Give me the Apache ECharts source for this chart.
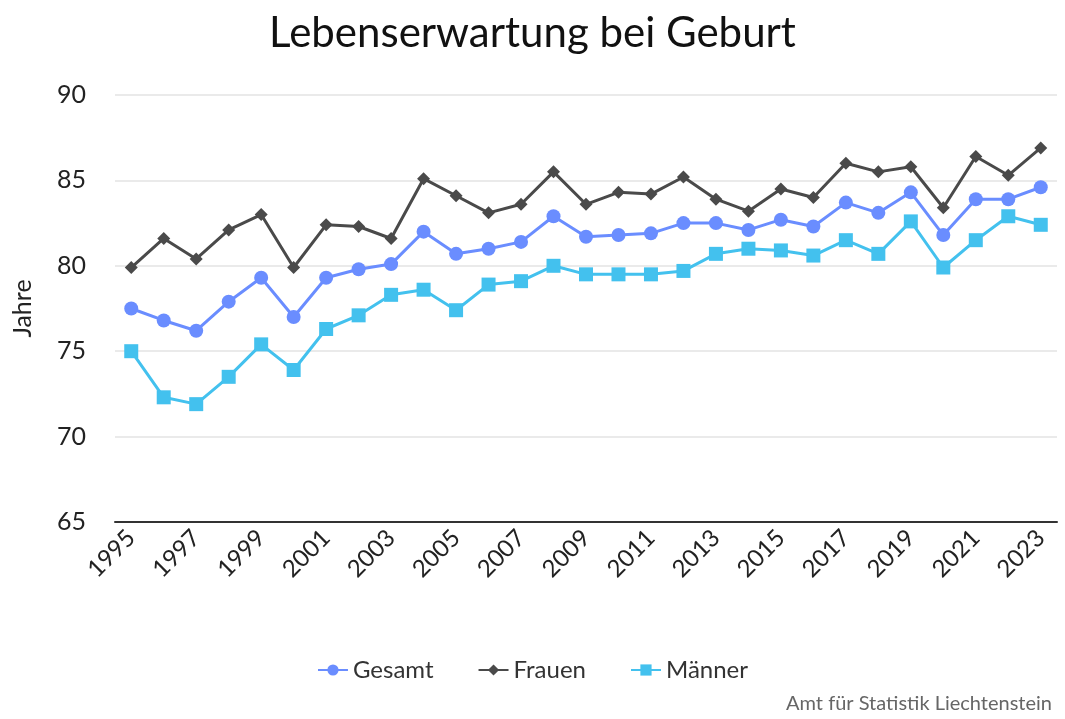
<!DOCTYPE html>
<html>
<head>
<meta charset="utf-8">
<script src="https://cdn.jsdelivr.net/npm/echarts@6/dist/echarts.min.js"></script>
<style>
  html, body { margin: 0; padding: 0; background: #fff; }
  #chart { width: 1065px; height: 719px; }
</style>
</head>
<body>
<div id="chart"></div>
<script>
const years = ['1995','1996','1997','1998','1999','2000','2001','2002','2003','2004','2005','2006','2007','2008','2009',
  '2010','2011','2012','2013','2014','2015','2016','2017','2018','2019','2020','2021','2022','2023']

const gesamt = [77.5, 76.8, 76.2, 77.9, 79.3, 77.0, 79.3, 79.8, 80.1, 82.0, 80.7, 81.0, 81.4, 82.9, 81.7,
  81.8, 81.9, 82.5, 82.5, 82.1, 82.7, 82.3, 83.7, 83.1, 84.3, 81.8, 83.9, 83.9, 84.6]
const frauen = [79.9, 81.6, 80.4, 82.1, 83.0, 79.9, 82.4, 82.3, 81.6, 85.1, 84.1, 83.1, 83.6, 85.5, 83.6,
  84.3, 84.2, 85.2, 83.9, 83.2, 84.5, 84.0, 86.0, 85.5, 85.8, 83.4, 86.4, 85.3, 86.9]
const maenner = [75.0, 72.3, 71.9, 73.5, 75.4, 73.9, 76.3, 77.1, 78.3, 78.6, 77.4, 78.9, 79.1, 80.0, 79.5,
  79.5, 79.5, 79.7, 80.7, 81.0, 80.9, 80.6, 81.5, 80.7, 82.6, 79.9, 81.5, 82.9, 82.4]

const chart = echarts.init(document.getElementById('chart'))

const FONT = 'Lato, "Noto Sans", sans-serif'

function lineSeries(name, data, color, symbol, size) {
  return {
    name,
    type: 'line',
    data,
    symbol,
    symbolSize: size,
    showSymbol: true,
    lineStyle: { color, width: 3 },
    itemStyle: { color },
    emphasis: { disabled: true },
  }
}

chart.setOption({
  animation: false,
  textStyle: { fontFamily: FONT },
  title: [
    {
      text: 'Lebenserwartung bei Geburt',
      left: 'center',
      top: 7,
      textStyle: { fontSize: 42, fontWeight: 'normal', color: '#111', fontFamily: FONT },
    },
    {
      text: 'Amt für Statistik Liechtenstein',
      right: 8,
      bottom: 0,
      textStyle: { fontSize: 20, fontWeight: 'normal', color: '#666', fontFamily: FONT },
    },
  ],
  legend: {
    bottom: 32,
    left: 'center',
    itemGap: 44,
    itemWidth: 30,
    itemHeight: 14,
    textStyle: { fontSize: 24, color: '#333', fontFamily: FONT },
    data: ['Gesamt', 'Frauen', 'Männer'],
  },
  grid: { left: 115, right: 8, top: 95, bottom: 197 },
  xAxis: {
    type: 'category',
    data: years,
    boundaryGap: true,
    axisLine: { lineStyle: { color: '#333', width: 2 } },
    axisTick: { show: false },
    axisLabel: {
      interval: 1,
      rotate: 45,
      fontSize: 24,
      color: '#222',
      margin: 12,
      fontFamily: FONT,
    },
  },
  yAxis: {
    type: 'value',
    min: 65,
    max: 90,
    interval: 5,
    name: 'Jahre',
    nameLocation: 'middle',
    nameGap: 80,
    nameTextStyle: { fontSize: 25, color: '#222', fontFamily: FONT },
    axisLine: { show: false },
    axisTick: { show: false },
    axisLabel: { fontSize: 25, color: '#222', margin: 29, fontFamily: FONT },
    splitLine: { lineStyle: { color: '#e3e3e3', width: 1.5 } },
  },
  series: [
    lineSeries('Gesamt', gesamt, '#6a8dff', 'circle', 14),
    lineSeries('Frauen', frauen, '#4a4a4a', 'diamond', 13),
    lineSeries('Männer', maenner, '#43c1ee', 'rect', 14),
  ],
})
</script>
</body>
</html>
